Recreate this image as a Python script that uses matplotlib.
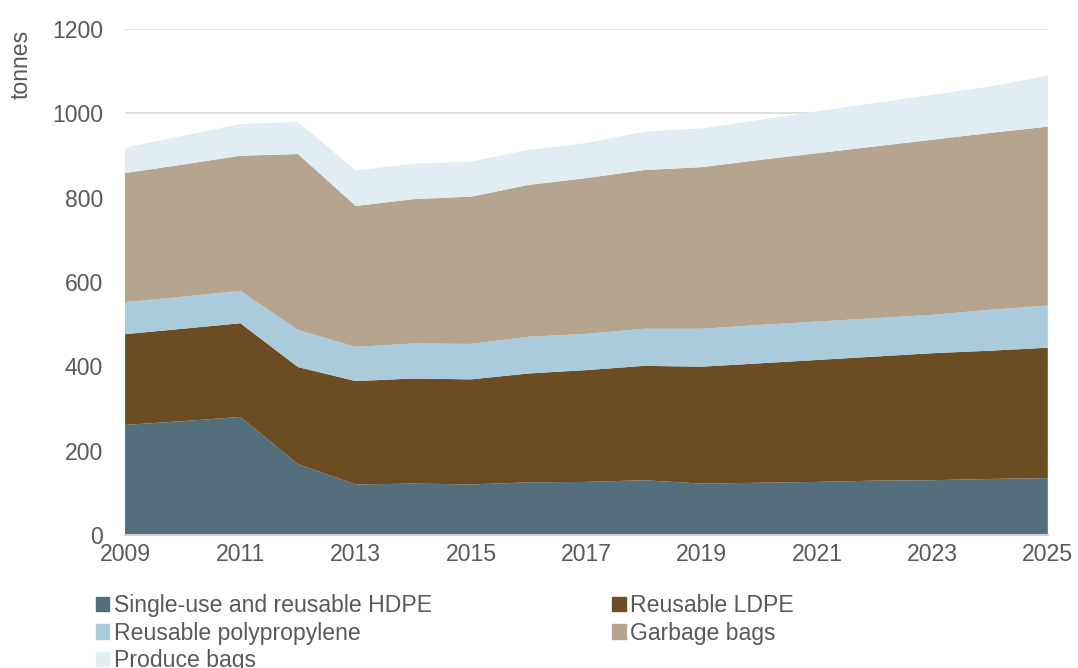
import matplotlib.pyplot as plt
from matplotlib.patches import Patch

plt.rcParams['font.family'] = ['Liberation Sans', 'DejaVu Sans']

years = list(range(2009, 2026))
hdpe = [261, 270, 280, 168, 120, 122, 120, 125, 126, 130, 122, 124, 126, 129, 130, 133, 135]
ldpe = [215, 219, 222, 230, 245, 249, 249, 258, 265, 271, 277, 283, 289, 294, 301, 304, 309]
pp = [76, 76, 77, 88, 81, 83, 84, 87, 86, 88, 90, 91, 91, 91, 91, 97, 100]
garbage = [306, 313, 320, 417, 334, 342, 349, 360, 369, 376, 383, 391, 399, 407, 415, 419, 424]
produce = [60, 68, 75, 76, 84, 84, 83, 83, 83, 91, 92, 95, 99, 103, 106, 110, 121]

labels = ['Single-use and reusable HDPE', 'Reusable LDPE', 'Reusable polypropylene',
          'Garbage bags', 'Produce bags']
colors = ['#526f7b', '#6b4c23', '#a9cbdc', '#b5a48e', '#e1edf2']
txt = '#595959'

fig = plt.figure(figsize=(10.78, 6.68), dpi=100)
ax = fig.add_axes([0.116, 0.199, 0.856, 0.758])
ax.stackplot(years, hdpe, ldpe, pp, garbage, produce, colors=colors, lw=0, zorder=2)

ax.set_xlim(2009, 2025)
ax.set_ylim(0, 1200)
ax.set_yticks(range(0, 1201, 200))
ax.set_xticks(range(2009, 2026, 2))
ax.grid(axis='y', color='#d9d9d9', lw=1.2, zorder=0)
for s in ['top', 'right', 'left']:
    ax.spines[s].set_visible(False)
ax.spines['bottom'].set_color('#d0d0d0')
ax.spines['bottom'].set_linewidth(1.5)
ax.tick_params(length=0, labelsize=16.6, labelcolor=txt)
ax.tick_params(axis='y', pad=16)
ax.tick_params(axis='x', pad=6)
ax.set_ylabel('tonnes', fontsize=16.6, color=txt)
ax.yaxis.set_label_coords(-0.1, 0.93)

handles = [Patch(color=c) for c in colors]
order = [0, 2, 4, 1, 3]
fig.legend([handles[i] for i in order], [labels[i] for i in order],
           ncol=2, loc='upper left', bbox_to_anchor=(0.078, 0.128),
           frameon=False, fontsize=16.6, labelcolor=txt,
           handlelength=0.6, handleheight=0.6, handletextpad=0.2,
           columnspacing=7.8, labelspacing=0.2, borderpad=0)

fig.savefig('out.png', dpi=100)
